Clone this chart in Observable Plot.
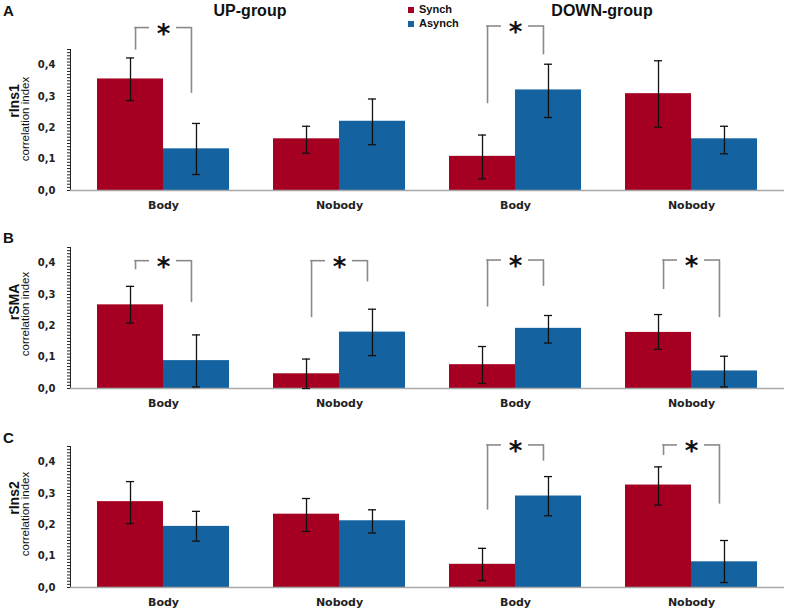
<!DOCTYPE html>
<html><head><meta charset="utf-8">
<script src="https://cdn.jsdelivr.net/npm/d3@7"></script>
<script src="https://cdn.jsdelivr.net/npm/@observablehq/plot@0.6"></script>
<style>
body{margin:0;background:#fff;}
#wrap{position:relative;width:785px;height:614px;overflow:hidden;font-family:"Liberation Sans",Arial,sans-serif;color:#111;}
.panel{position:absolute;left:0;}
.lbl{position:absolute;white-space:nowrap;line-height:1;}
.rot{position:absolute;white-space:nowrap;line-height:1;transform:translate(-50%,-50%) rotate(-90deg);}
.sw{position:absolute;width:6px;height:6px;}
</style></head><body><div id="wrap"></div>
<script>
// ---- categories / labels ----
const groups = ["UP-Body", "UP-Nobody", "DOWN-Body", "DOWN-Nobody"];
const groupLabels = ["Body", "Nobody", "Body", "Nobody"];
const conditions = ["Synch", "Asynch"];
const colors = ["#a50021", "#1462a0"];
const panelLetters = ["A", "B", "C"];
const regionNames = ["rIns1", "rSMA", "rIns2"];
const groupTitles = ["UP-group", "DOWN-group"];
const majorTicks = [0, 0.1, 0.2, 0.3, 0.4];

// ---- rIns1 ----
const rIns1Synch   = [0.356, 0.165, 0.109, 0.309];
const rIns1SynchLo = [0.287, 0.119, 0.037, 0.202];
const rIns1SynchHi = [0.423, 0.205, 0.177, 0.414];
const rIns1Asynch   = [0.133, 0.221, 0.321, 0.165];
const rIns1AsynchLo = [0.051, 0.146, 0.233, 0.117];
const rIns1AsynchHi = [0.214, 0.292, 0.403, 0.205];
const rIns1Sig      = ["UP-Body", "DOWN-Body"];
const rIns1SigTop   = [0.52, 0.525];
const rIns1SigLeft  = [0.448, 0.277];
const rIns1SigRight = [0.31, 0.433];

// ---- rSMA ----
const rSMASynch   = [0.267, 0.047, 0.076, 0.179];
const rSMASynchLo = [0.209, 0.0, 0.016, 0.125];
const rSMASynchHi = [0.326, 0.094, 0.134, 0.236];
const rSMAAsynch   = [0.089, 0.18, 0.192, 0.056];
const rSMAAsynchLo = [0.005, 0.105, 0.145, 0.005];
const rSMAAsynchHi = [0.171, 0.253, 0.233, 0.103];
const rSMASig      = ["UP-Body", "UP-Nobody", "DOWN-Body", "DOWN-Nobody"];
const rSMASigTop   = [0.408, 0.408, 0.41, 0.41];
const rSMASigLeft  = [0.379, 0.226, 0.26, 0.316];
const rSMASigRight = [0.274, 0.34, 0.326, 0.226];

// ---- rIns2 ----
const rIns2Synch   = [0.274, 0.234, 0.074, 0.327];
const rIns2SynchLo = [0.204, 0.179, 0.022, 0.263];
const rIns2SynchHi = [0.338, 0.284, 0.125, 0.385];
const rIns2Asynch   = [0.195, 0.213, 0.292, 0.082];
const rIns2AsynchLo = [0.148, 0.174, 0.229, 0.016];
const rIns2AsynchHi = [0.243, 0.248, 0.354, 0.15];
const rIns2Sig      = ["DOWN-Body", "DOWN-Nobody"];
const rIns2SigTop   = [0.455, 0.455];
const rIns2SigLeft  = [0.247, 0.421];
const rIns2SigRight = [0.403, 0.266];

const panelsData = [
  {synch: rIns1Synch, synchLo: rIns1SynchLo, synchHi: rIns1SynchHi, asynch: rIns1Asynch, asynchLo: rIns1AsynchLo, asynchHi: rIns1AsynchHi,
   sig: rIns1Sig, top: rIns1SigTop, left: rIns1SigLeft, right: rIns1SigRight},
  {synch: rSMASynch, synchLo: rSMASynchLo, synchHi: rSMASynchHi, asynch: rSMAAsynch, asynchLo: rSMAAsynchLo, asynchHi: rSMAAsynchHi,
   sig: rSMASig, top: rSMASigTop, left: rSMASigLeft, right: rSMASigRight},
  {synch: rIns2Synch, synchLo: rIns2SynchLo, synchHi: rIns2SynchHi, asynch: rIns2Asynch, asynchLo: rIns2AsynchLo, asynchHi: rIns2AsynchHi,
   sig: rIns2Sig, top: rIns2SigTop, left: rIns2SigLeft, right: rIns2SigRight}
];

const W = 785, ML = 70, MR = 1, PI = 0.252, PO = 0.15;
const step = (W - ML - MR) / (groups.length - PI + 2 * PO);
const bw = step * (1 - PI), half = bw / 2, q = bw / 4;
const minorTicks = d3.range(0, 46).map(i => i / 100);
const fmt = d => {
  const k = Math.round(d * 100);
  return k % 10 === 0 ? (k / 100).toFixed(1).replace(".", ",") : "";
};

function makePanel(p) {
  const rows = [];
  groups.forEach((g, i) => {
    rows.push({group: g, cond: "Synch", mean: p.synch[i], lo: p.synchLo[i], hi: p.synchHi[i]});
    rows.push({group: g, cond: "Asynch", mean: p.asynch[i], lo: p.asynchLo[i], hi: p.asynchHi[i]});
  });
  const S = rows.filter(d => d.cond === "Synch");
  const A = rows.filter(d => d.cond === "Asynch");
  const sig = p.sig.map((g, i) => ({group: g, top: p.top[i], left: p.left[i], right: p.right[i]}));
  const labels = groups.map((g, i) => ({group: g, label: groupLabels[i]}));
  const errStyle = {stroke: "#111", strokeWidth: 1.3};
  const brStyle = {stroke: "#8a8a8a", strokeWidth: 1.6};
  return Plot.plot({
    width: W, height: 217,
    marginLeft: ML, marginRight: MR, marginTop: 49, marginBottom: 27,
    style: {background: "transparent", fontFamily: "DejaVu Sans", fontSize: "10px", fontWeight: "bold", color: "#222", overflow: "visible"},
    x: {domain: groups, paddingInner: PI, paddingOuter: PO, align: 0.5, axis: null},
    y: {domain: [0, 0.45], ticks: minorTicks, tickSize: 3, tickPadding: 12, tickFormat: fmt, line: true, label: null},
    color: {domain: conditions, range: colors},
    marks: [
      Plot.barY(S, {x: "group", y: "mean", fill: "cond", insetRight: half}),
      Plot.barY(A, {x: "group", y: "mean", fill: "cond", insetLeft: half}),
      Plot.ruleY([0], {stroke: "#a8a8a8", strokeWidth: 1.5}),
      Plot.ruleX(S, {x: "group", y1: "lo", y2: "hi", dx: -q, ...errStyle}),
      Plot.ruleX(A, {x: "group", y1: "lo", y2: "hi", dx: q, ...errStyle}),
      Plot.tickY(S, {x: "group", y: "lo", insetLeft: q - 4, insetRight: bw - q - 4, ...errStyle}),
      Plot.tickY(S, {x: "group", y: "hi", insetLeft: q - 4, insetRight: bw - q - 4, ...errStyle}),
      Plot.tickY(A, {x: "group", y: "lo", insetLeft: half + q - 4, insetRight: q - 4, ...errStyle}),
      Plot.tickY(A, {x: "group", y: "hi", insetLeft: half + q - 4, insetRight: q - 4, ...errStyle}),
      Plot.ruleX(sig, {x: "group", y1: "top", y2: "left", dx: -half + 38, ...brStyle}),
      Plot.ruleX(sig, {x: "group", y1: "top", y2: "right", dx: half - 38, ...brStyle}),
      Plot.tickY(sig, {x: "group", y: "top", insetLeft: 37.2, insetRight: half + 14, ...brStyle}),
      Plot.tickY(sig, {x: "group", y: "top", insetLeft: half + 13, insetRight: 37.2, ...brStyle}),
      Plot.text(sig, {x: "group", y: "top", text: () => "*", fontSize: 26, fontWeight: "bold", fill: "#111", dy: 7}),
      Plot.text(labels, {x: "group", text: "label", frameAnchor: "bottom", dy: 18, fontSize: 11, fill: "#222"})
    ]
  });
}

const wrap = document.getElementById("wrap");
const tops = [0, 198, 397];
panelsData.forEach((p, i) => {
  const div = document.createElement("div");
  div.className = "panel";
  div.style.top = tops[i] + "px";
  div.appendChild(makePanel(p));
  wrap.appendChild(div);
});

function addLabel(text, cls, css) {
  const el = document.createElement("div");
  el.className = cls;
  el.textContent = text;
  Object.assign(el.style, css);
  wrap.appendChild(el);
  return el;
}
// panel letters
const letterTops = [3, 230, 430];
panelLetters.forEach((t, i) => addLabel(t, "lbl", {left: "3px", top: letterTops[i] + "px", fontSize: "15px", fontWeight: "bold"}));
// group titles
const titleCenters = [250, 602];
groupTitles.forEach((t, i) => addLabel(t, "lbl", {left: titleCenters[i] + "px", top: "3px", fontSize: "16px", fontWeight: "bold", transform: "translateX(-50%)"}));
// legend
conditions.forEach((c, i) => {
  const sw = document.createElement("div");
  sw.className = "sw";
  Object.assign(sw.style, {left: "408px", top: (7 + i * 14) + "px", background: colors[i]});
  wrap.appendChild(sw);
  addLabel(c, "lbl", {left: "419px", top: (4 + i * 14) + "px", fontSize: "11px", fontWeight: "bold"});
});
// y labels
const regionCenters = [101, 302, 498];
const corrCenters = [119, 314, 514];
regionNames.forEach((r, i) => {
  addLabel(r, "rot", {left: "14px", top: regionCenters[i] + "px", fontSize: "14px", fontWeight: "bold"});
  addLabel("correlation index", "rot", {left: "26px", top: corrCenters[i] + "px", fontSize: "11.5px"});
});
</script>
</body></html>
